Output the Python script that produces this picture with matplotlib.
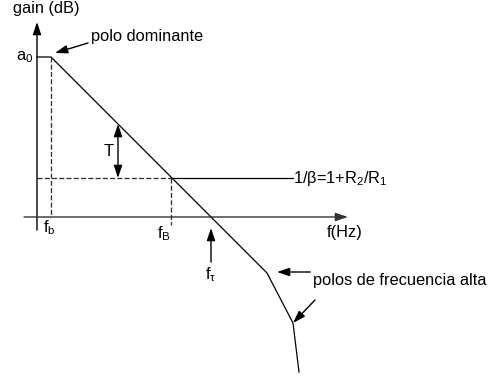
import matplotlib
matplotlib.use("Agg")
import matplotlib.pyplot as plt
import numpy as np

plt.rcParams['font.family'] = ['Liberation Sans', 'DejaVu Sans']
plt.rcParams['mathtext.fontset'] = 'custom'
plt.rcParams['mathtext.rm'] = 'Liberation Sans'
plt.rcParams['mathtext.it'] = 'Liberation Sans'

# Asymptotic open-loop gain: break points (log10 of frequency) and gains in dB
curve_logf = [0.65, 1.0, 6.4, 7.05, 7.2]
curve_gain = [80.0, 80.0, -28.0, -53.0, -77.5]

# Key levels and frequencies
a0_db = 80.0            # DC open-loop gain
inv_beta_db = 19.5      # closed-loop gain 1/beta
logf_b = 1.0            # dominant pole
logf_B = 4.0            # closed-loop bandwidth
logf_T = 5.0            # unity-gain frequency
logf_T_arrow = 2.675    # where the loop gain T is marked

def F(lf):
    return 10.0 ** np.asarray(lf)

fig = plt.figure(figsize=(4.9, 3.77), dpi=100)
ax = fig.add_axes([0, 0, 1, 1])
ax.set_xscale('log')
ax.set_xlim(F(-0.275), F(11.975))
ax.set_ylim(-80, 108.5)
ax.axis('off')

arrow_kw = dict(arrowstyle='-|>,head_length=0.75,head_width=0.25', color='black',
                lw=1.0, shrinkA=0, shrinkB=0, mutation_scale=10)

# Axes with arrows
ax.annotate('', xy=(F(0.65), 97.5), xytext=(F(0.65), -6.5), arrowprops=arrow_kw)
ax.annotate('', xy=(F(8.425), 0), xytext=(F(0.325), 0),
            arrowprops=dict(arrow_kw, color='#333333'))

# Gain curve
ax.plot(F(curve_logf), curve_gain, color='black', lw=0.9, solid_joinstyle='miter')

dash = dict(color='#333333', lw=0.95, dashes=(3.8, 1.7))
# Dominant pole marker
ax.plot(F([logf_b, logf_b]), [a0_db, 0], **dash)
# Closed-loop gain line
ax.plot(F([0.65, logf_B]), [inv_beta_db, inv_beta_db], **dash)
ax.plot(F([logf_B, 7.05]), [inv_beta_db, inv_beta_db], color='black', lw=0.9)
ax.plot(F([logf_B, logf_B]), [inv_beta_db, -4], **dash)

# Loop gain T (double arrow)
gain_at_T = a0_db - 20 * (logf_T_arrow - logf_b)
ax.annotate('', xy=(F(logf_T_arrow), gain_at_T), xytext=(F(logf_T_arrow), inv_beta_db),
            arrowprops=dict(arrow_kw, arrowstyle='<|-|>,head_length=0.75,head_width=0.25'))
ax.text(F(2.45), 32.5, 'T', fontsize=12, ha='center', va='center')

# Unity-gain frequency arrow
ax.annotate('', xy=(F(logf_T), -5.5), xytext=(F(logf_T), -22.5), arrowprops=arrow_kw)

fs = 11.8
ax.text(F(0.05), 104, 'gain (dB)', fontsize=fs, ha='left', va='center')
ax.text(F(0.55), 80, r'a$_\mathregular{0}$', fontsize=fs, ha='right', va='center')
ax.text(F(0.95), -5.5, r'f$_\mathregular{b}$', fontsize=fs, ha='center', va='center')
ax.text(F(logf_B - 0.18), -8.5, r'f$_\mathregular{B}$', fontsize=fs, ha='center', va='center')
ax.text(F(logf_T), -29, r'f$_\mathregular{τ}$', fontsize=fs, ha='center', va='center')
ax.text(F(7.9), -8, 'f(Hz)', fontsize=fs, ha='left', va='center')
ax.text(F(7.05), 19, r'1/β=1+R$_\mathregular{2}$/R$_\mathregular{1}$', fontsize=fs,
        ha='left', va='center')

ax.text(F(2.0), 90, 'polo dominante', fontsize=fs, ha='left', va='center')
ax.annotate('', xy=(F(1.1), 82), xytext=(F(1.925), 87), arrowprops=arrow_kw)

ax.text(F(7.55), -31.5, 'polos de frecuencia alta', fontsize=fs, ha='left', va='center')
ax.annotate('', xy=(F(6.65), -27.5), xytext=(F(7.48), -27.5), arrowprops=arrow_kw)
ax.annotate('', xy=(F(7.05), -53), xytext=(F(7.6), -41.5), arrowprops=arrow_kw)

fig.savefig('out.png', dpi=100)
